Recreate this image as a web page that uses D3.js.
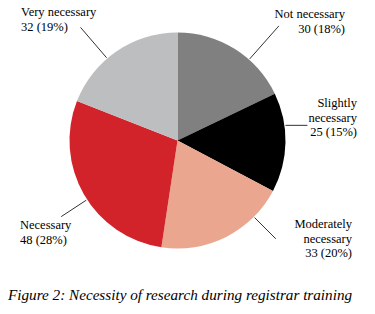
<!DOCTYPE html>
<html>
<head>
<meta charset="utf-8">
<script src="https://cdn.jsdelivr.net/npm/d3@7"></script>
<style>
  body { margin: 0; background: #fff; }
  svg { display: block; }
  text { font-family: "Liberation Serif", "Times New Roman", serif; fill: #000; }
</style>
</head>
<body>
<svg id="chart"></svg>
<script>
// Données
const categories = ["Not necessary", "Slightly necessary", "Moderately necessary", "Necessary", "Very necessary"]
const counts = [30, 25, 33, 48, 32]
const percents = ["18%", "15%", "20%", "28%", "19%"]
const colors = ["#808080", "#000000", "#eaa68f", "#d2232b", "#bdbec0"]

// Étiquettes: lignes de texte, position, ancrage, angle du trait
const labelLayout = [
    { lines: ["Not necessary"], x: 345, y: 18, anchor: "end", angle: 41.5, len: 44 },
    { lines: ["Slightly", "necessary"], x: 357, y: 107, anchor: "end", angle: 82, len: 0, horiz: 22 },
    { lines: ["Moderately", "necessary"], x: 352, y: 228, anchor: "end", angle: 135, len: 30 },
    { lines: ["Necessary"], x: 20, y: 229, anchor: "start", angle: 236.8, len: 30 },
    { lines: ["Very necessary"], x: 21, y: 16, anchor: "start", angle: 319.4, len: 40 }
]

const width = 375, height = 314
const cx = 177.5, cy = 140.5, radius = 108

const svg = d3.select("#chart").attr("width", width).attr("height", height)
const g = svg.append("g").attr("transform", "translate(" + cx + "," + cy + ")")

const data = categories.map((c, i) => ({ category: c, value: counts[i], pct: percents[i], color: colors[i], layout: labelLayout[i] }))

const pie = d3.pie().value(d => d.value).sort(null)
const arc = d3.arc().innerRadius(0).outerRadius(radius)

g.selectAll("path.slice")
    .data(pie(data))
    .enter()
    .append("path")
    .attr("class", "slice")
    .attr("d", arc)
    .attr("fill", d => d.data.color)

// Traits de rappel
data.forEach(d => {
    const L = d.layout
    const a = L.angle * Math.PI / 180
    const p0 = d3.pointRadial(a, radius + 1)
    let p1
    if (L.horiz) p1 = [p0[0] + L.horiz, p0[1]]
    else p1 = d3.pointRadial(a, radius + 1 + L.len)
    g.append("line")
        .attr("x1", p0[0]).attr("y1", p0[1])
        .attr("x2", p1[0]).attr("y2", p1[1])
        .attr("stroke", "#333").attr("stroke-width", 1)
})

// Textes
const lh = 14.5
data.forEach(d => {
    const L = d.layout
    const t = svg.append("text")
        .attr("text-anchor", L.anchor)
        .style("font-size", "12.5px")
    const lines = L.lines.concat([d.value + " (" + d.pct + ")"])
    lines.forEach((s, i) => {
        t.append("tspan").attr("x", L.x).attr("y", L.y + i * lh).text(s)
    })
})

// Légende de figure
svg.append("text")
    .attr("x", 8).attr("y", 300)
    .style("font-size", "15.2px")
    .style("font-style", "italic")
    .text("Figure 2: Necessity of research during registrar training")
</script>
</body>
</html>
